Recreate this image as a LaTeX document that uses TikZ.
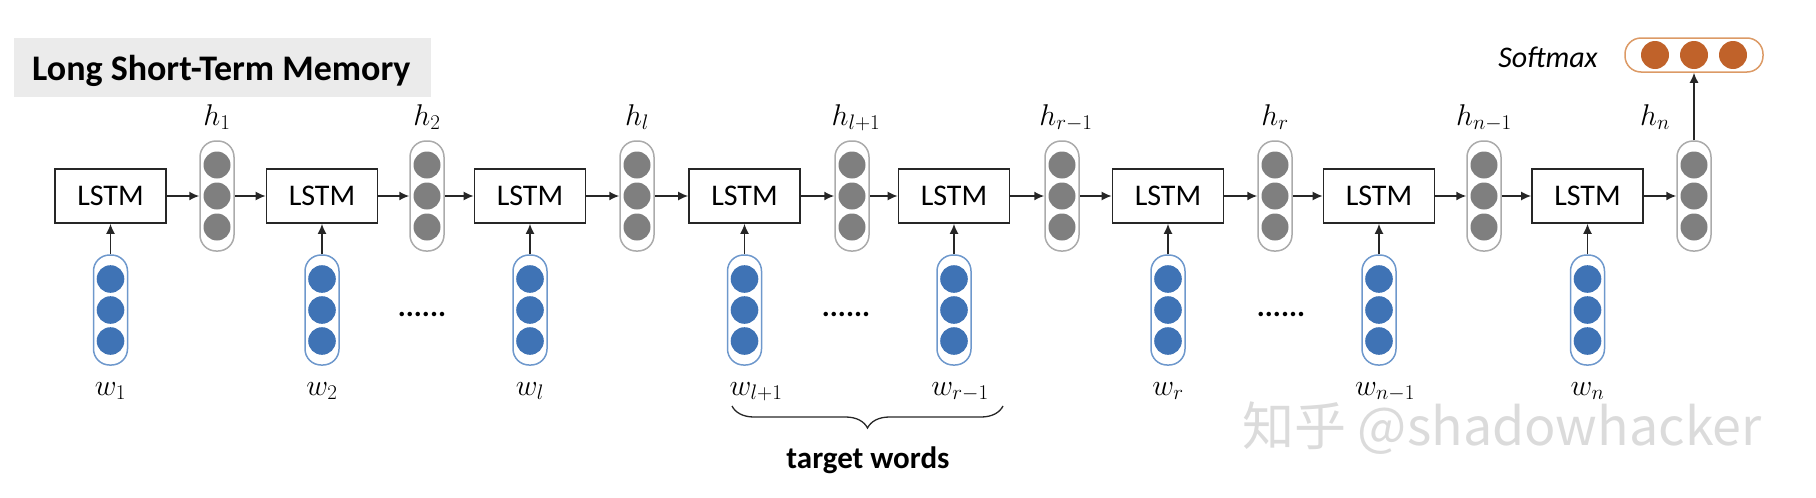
\RequirePackage{fix-cm}
\documentclass[tikz,border=0pt]{standalone}
\usepackage[no-math]{fontspec}
\setmainfont{Carlito}
\newfontfamily\cjkfont{Noto Sans CJK SC}
\usetikzlibrary{arrows.meta,decorations.pathreplacing,calc}
\definecolor{hgray}{HTML}{7F7F7F}
\definecolor{hborder}{HTML}{ABABAB}
\definecolor{wblue}{HTML}{3F73B5}
\definecolor{wborder}{HTML}{6E98CC}
\definecolor{sorange}{HTML}{C0622A}
\definecolor{sborder}{HTML}{DC9A66}
\definecolor{titlebg}{HTML}{EBEBEB}
\begin{document}
\begin{tikzpicture}[x=1pt,y=-1pt,
  lstmbox/.style={draw=black!85, line width=1.6pt, minimum width=111pt, minimum height=54pt, inner sep=0pt, font=\fontsize{30}{30}\selectfont},
  hcap/.style={draw=hborder, line width=1.5pt, rounded corners=16pt, minimum width=34pt, minimum height=110pt, inner sep=0pt},
  wcap/.style={draw=wborder, line width=1.5pt, rounded corners=16pt, minimum width=34pt, minimum height=110pt, inner sep=0pt},
  scap/.style={draw=sborder, line width=1.5pt, rounded corners=16pt, minimum width=138pt, minimum height=34pt, inner sep=0pt},
  conn/.style={line width=1.6pt, draw=black!85, -{Latex[length=10pt,width=9pt]}},
  lab/.style={font=\fontsize{30}{32}\selectfont, inner sep=0pt, anchor=base},
  dotlab/.style={font=\fontsize{30}{30}\selectfont\bfseries, inner sep=0pt, anchor=base}
]
\useasboundingbox (0,0) rectangle (1816,498);
% title
\node[fill=titlebg, minimum width=417pt, minimum height=59pt, inner sep=0pt, anchor=north west] (titlebox) at (14,38) {};
\node[font=\fontsize{36}{38}\selectfont\bfseries, inner sep=0pt, anchor=base west] (title) at (32,80) {Long Short-Term Memory};
% LSTM boxes, hidden and input vectors
\foreach \i/\lx/\hx in {1/110.5/217, 2/322/427, 3/530/637, 4/744.5/852, 5/954/1062, 6/1168/1275, 7/1379/1484, 8/1587.5/1694} {
  \node[lstmbox] (L\i) at (\lx,196) {LSTM};
  \node[hcap] (h\i) at (\hx,196) {};
  \foreach \dy in {-31,0,31} \fill[hgray] (\hx,196+\dy) circle (13.5pt);
  \node[wcap] (w\i) at (\lx,310) {};
  \foreach \dy in {-31,0,31} \fill[wblue] (\lx,310+\dy) circle (13.8pt);
}
% connectors
\foreach \i in {1,...,8} {
  \draw[conn] (L\i.east) -- (h\i.west);
  \draw[conn] (w\i.north) -- (L\i.south);
}
\foreach \i/\j in {1/2,2/3,3/4,4/5,5/6,6/7,7/8} {
  \draw[conn] (h\i.east) -- (L\j.west);
}
% h labels
\node[lab] (lh1) at (217,125) {$h_1$};
\node[lab] (lh2) at (427,125) {$h_2$};
\node[lab] (lh3) at (637,125) {$h_l$};
\node[lab] (lh4) at (856,125) {$h_{l+1}$};
\node[lab] (lh5) at (1066,125) {$h_{r-1}$};
\node[lab] (lh6) at (1275,125) {$h_r$};
\node[lab] (lh7) at (1484,125) {$h_{n-1}$};
\node[lab] (lh8) at (1655,125) {$h_n$};
% w labels
\node[lab] (lw1) at (110.5,395) {$w_1$};
\node[lab] (lw2) at (322,395) {$w_2$};
\node[lab] (lw3) at (530,395) {$w_l$};
\node[lab] (lw4) at (756,395) {$w_{l+1}$};
\node[lab] (lw5) at (960,395) {$w_{r-1}$};
\node[lab] (lw6) at (1168,395) {$w_r$};
\node[lab] (lw7) at (1385,395) {$w_{n-1}$};
\node[lab] (lw8) at (1587.5,395) {$w_n$};
% dots
\node[dotlab] (d1) at (422,316) {......};
\node[dotlab] (d2) at (846,316) {......};
\node[dotlab] (d3) at (1281,316) {......};
% brace
\draw[decorate, decoration={brace, mirror, amplitude=22pt}, line width=1.3pt, black!85] (732,406) -- (1003,406);
\node[font=\fontsize{31}{32}\selectfont\bfseries, inner sep=0pt, anchor=base] (tw) at (868,468) {target words};
% softmax
\node[scap] (smx) at (1694,55) {};
\foreach \sx in {1655,1694,1733} \fill[sorange] (\sx,55) circle (14pt);
\node[font=\fontsize{30}{30}\selectfont\itshape, inner sep=0pt, anchor=base] (smxlab) at (1548,67) {Softmax};
\draw[conn] (h8.north) -- (smx.south);
% watermark
\node[font=\cjkfont\fontsize{52}{52}\selectfont, text=black!14, inner sep=0pt] (wm) at (1502,428) {知乎 @shadowhacker};
\end{tikzpicture}
\end{document}
